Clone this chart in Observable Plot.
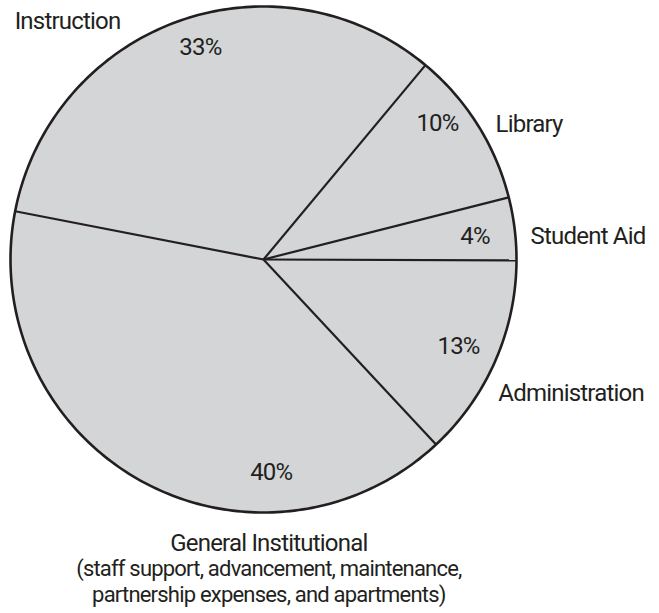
<!DOCTYPE html>
<html><head><meta charset="utf-8">
<script src="https://cdn.jsdelivr.net/npm/d3@7"></script>
<script src="https://cdn.jsdelivr.net/npm/@observablehq/plot@0.6"></script>
<style>body{margin:0;background:#fff} svg{display:block}</style>
</head><body><div id="chart"></div>
<script>
// ---- data ----
const categories = ["Instruction", "Library", "Student Aid", "Administration", "General Institutional"];
const shares = [33, 10, 4, 13, 40];
const percentLabels = ["33%", "10%", "4%", "13%", "40%"];
const generalNote = ["(staff support, advancement, maintenance,", "partnership expenses, and apartments)"];

// ---- layout ----
const W = 659, H = 613, CX = 263, CY = 259, R = 253;
const START = -79 * Math.PI / 180;
const FONT = "Roboto, 'Noto Sans', sans-serif";
const INK = "#231f20";
const FILL = "#d4d5d7";
const pctNudge = [[9, -2], [-8, -14], [-2, 11], [-2, 8], [112, 32]];
const nameNudge = [[-164, 8], [18, 7], [16, 15], [3, 40], [128, 70]];
const nameAnchor = ["start", "start", "start", "start", "middle"];

const arcs = d3.pie().sort(null).startAngle(START).endAngle(START + 2 * Math.PI)(shares);
const slices = arcs.map((p, i) => ({
  category: categories[i], label: percentLabels[i],
  a0: p.startAngle, a1: p.endAngle, mid: (p.startAngle + p.endAngle) / 2
}));
const pt = (a, k) => ({x: Math.sin(a) * k, y: Math.cos(a) * k});
const poly = slices.flatMap(s => {
  const n = Math.max(2, Math.ceil((s.a1 - s.a0) / (Math.PI / 180)));
  const pts = [{x: 0, y: 0, category: s.category}];
  for (let j = 0; j <= n; j++) pts.push({...pt(s.a0 + (s.a1 - s.a0) * j / n, 1), category: s.category});
  pts.push({x: 0, y: 0, category: s.category});
  return pts;
});
const circle = d3.range(0, 361).map(d => pt(d * Math.PI / 180, 1));
const radii = slices.map(s => ({x1: 0, y1: 0, x2: pt(s.a0, 1).x, y2: pt(s.a0, 1).y}));

const marks = [
  Plot.line(poly, {x: "x", y: "y", z: "category", fill: FILL, stroke: "none", curve: "linear"}),
  Plot.link(radii, {x1: "x1", y1: "y1", x2: "x2", y2: "y2", stroke: INK, strokeWidth: 2.2}),
  Plot.line(circle, {x: "x", y: "y", stroke: INK, strokeWidth: 2.6})
];
slices.forEach((s, i) => {
  const p = pt(s.mid, 0.85), q = pt(s.mid, 1);
  marks.push(Plot.text([s], {x: () => p.x, y: () => p.y, text: "label", dx: pctNudge[i][0], dy: pctNudge[i][1],
    lineAnchor: "bottom", textAnchor: "middle", fontSize: 24, fill: INK, fontFamily: FONT}));
  marks.push(Plot.text([s], {x: () => q.x, y: () => q.y, text: "category", dx: nameNudge[i][0], dy: nameNudge[i][1],
    lineAnchor: "bottom", textAnchor: nameAnchor[i], fontSize: 24, fill: INK, fontFamily: FONT}));
  if (s.category === "General Institutional") {
    marks.push(Plot.text([generalNote.join("\n")], {x: () => q.x, y: () => q.y, text: d => d, dx: 128, dy: 121,
      lineAnchor: "bottom", textAnchor: "middle", fontSize: 22, lineHeight: 1.18, fill: INK, fontFamily: FONT}));
  }
});

const chart = Plot.plot({
  width: W, height: H, margin: 0,
  x: {domain: [-CX / R, (W - CX) / R], range: [0, W], axis: null},
  y: {domain: [-(H - CY) / R, CY / R], range: [H, 0], axis: null},
  style: {background: "#fff", letterSpacing: "-0.8px"},
  marks
});
document.getElementById("chart").appendChild(chart);
</script>
</body></html>
